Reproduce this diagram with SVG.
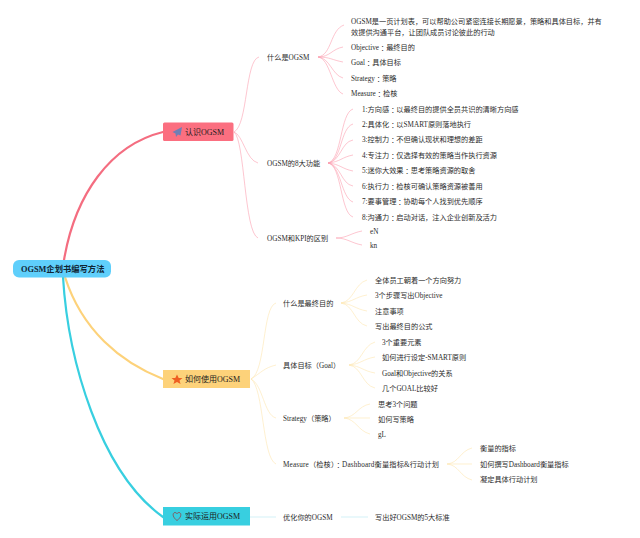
<svg xmlns="http://www.w3.org/2000/svg" width="640" height="538" viewBox="0 0 640 538">
<style>
text{font-family:"Liberation Serif","Noto Sans CJK SC",serif;font-size:7.2px;fill:#2b2b2b;dominant-baseline:central;transform:translate(0,.6px)}
.t{font-size:8px;fill:#1c1c1c}
.root{font-size:8.300px;font-weight:bold;fill:#0f2433}
.z{font-family:"Noto Sans CJK TC",sans-serif}
.m{fill:none;stroke-width:2.200;stroke-linecap:round}
.l{fill:none;stroke-width:.6}
.r{stroke:#fb9fb0}.y{stroke:#fde6b0}.c{stroke:#b5e8f2}
</style>
<rect width="640" height="538" fill="#fff"/>
<g id="connectors">
<path class="m" stroke="#f46d80" d="M64 260C75 195 110 145 163 132"/>
<path class="m" stroke="#fdd27a" d="M65 277C82 330 120 362 163 379"/>
<path class="m" stroke="#38cfe0" stroke-width="2.600" d="M63 277C68 360 100 472 163 517"/>
<g class="l r">
<path d="M234 132C248 125 245 60 259 57"/>
<path d="M234 132C243 135 246 160 258 163"/>
<path d="M234 132C245 140 244 232 258 238"/>
<path d="M318 57C332 55 330 30 344 25"/>
<path d="M318 57C330 57 332 49 343 47"/>
<path d="M318 57C330 57 332 60 343 62"/>
<path d="M318 57C330 58 332 75 343 78"/>
<path d="M318 57C330 58 332 90 343 94"/>
<path d="M328 163C342 160 340 113 353 109"/>
<path d="M328 163C342 161 340 128 353 124"/>
<path d="M328 163C341 161 341 142 353 140"/>
<path d="M328 163C340 162 342 157 353 155"/>
<path d="M328 163C340 164 342 169 353 171"/>
<path d="M328 163C341 165 341 184 353 186"/>
<path d="M328 163C341 165 341 198 353 202"/>
<path d="M328 163C342 165 340 213 353 217"/>
<path d="M336 238C347 238 351 233 362 231"/>
<path d="M336 238C347 238 351 243 362 245"/>
</g>
<g class="l y">
<path d="M251 379C266 372 262 307 276 303"/>
<path d="M251 379C262 372 264 368 276 365"/>
<path d="M251 379C263 385 264 415 276 418"/>
<path d="M251 379C264 388 262 458 276 464"/>
<path d="M341 303C354 301 354 284 367 280"/>
<path d="M341 303C353 302 355 297 367 295"/>
<path d="M341 303C353 304 355 309 367 311"/>
<path d="M341 303C354 305 354 323 367 326"/>
<path d="M349 365C362 363 362 346 375 342"/>
<path d="M349 365C361 364 363 359 375 357"/>
<path d="M349 365C361 366 363 371 375 373"/>
<path d="M349 365C362 367 362 385 375 388"/>
<path d="M344 418C356 417 358 406 370 404"/>
<path d="M344 418H370"/>
<path d="M344 418C356 419 358 431 370 434"/>
<path d="M447 464C459 463 460 451 472 448"/>
<path d="M447 464H472"/>
<path d="M447 464C459 465 460 477 472 480"/>
</g>
<g class="l c">
<path d="M250 517H276"/>
<path d="M341 517H368"/>
</g>
</g>
<g id="root"><rect x="13" y="260" width="98" height="17.500" rx="6" fill="#5fcffb"/><text class="root" x="21" y="269">OGSM企划书编写方法</text></g>
<g id="n1"><rect x="163" y="122.500" width="70.500" height="18.500" rx="1.500" fill="#fb6f80"/>
<path d="M182 127L172.500 132L175.500 133.500L176 137L178 134.500L180.500 135.500Z" fill="#6f7fb5"/><text class="t" x="185" y="132">认识OGSM</text></g>
<g id="n2"><rect x="163" y="370" width="87" height="18" fill="#fdd27a"/>
<path d="M177 374.500L178.700 378H182.500L179.500 380.400L180.600 384L177 381.900L173.400 384L174.500 380.400L171.500 378H175.300Z" fill="#ee5f22"/><text class="t" x="185" y="379">如何使用OGSM</text></g>
<g id="n3"><rect x="163" y="507" width="87" height="18.500" fill="#38cfe0"/>
<path d="M177 520.500C172 517 172.500 512.500 175 512.500C176 512.500 176.700 513 177 513.800C177.300 513 178 512.500 179 512.500C181.500 512.500 182 517 177 520.500Z" fill="none" stroke="#8a4a50" stroke-width=".8"/><text class="t" x="185" y="516">实际运用OGSM</text></g>
<g id="a1"><text x="267" y="57">什么是OGSM</text></g>
<g id="a2"><text x="267" y="163">OGSM的8大功能</text></g>
<g id="a3"><text x="267" y="238.500">OGSM和KPI的区别</text></g>
<g id="a1-1"><text x="351" y="21">OGSM是一页计划表，可以帮助公司紧密连接长期愿景，策略和具体目标，并有</text><text x="351" y="32">效提供沟通平台，让团队成员讨论彼此的行动</text></g>
<g id="a1-2"><text x="351" y="47">Objective<tspan class="z">：</tspan>最终目的</text></g>
<g id="a1-3"><text x="351" y="62.500">Goal<tspan class="z">：</tspan>具体目标</text></g>
<g id="a1-4"><text x="351" y="78">Strategy<tspan class="z">：</tspan>策略</text></g>
<g id="a1-5"><text x="351" y="93.500">Measure<tspan class="z">：</tspan>检核</text></g>
<g id="a2-1"><text x="362" y="109">1:方向感<tspan class="z">：</tspan>以最终目的提供全员共识的清晰方向感</text></g>
<g id="a2-2"><text x="362" y="124.300">2:具体化<tspan class="z">：</tspan>以SMART原则落地执行</text></g>
<g id="a2-3"><text x="362" y="139.700">3:控制力<tspan class="z">：</tspan>不但确认现状和理想的差距</text></g>
<g id="a2-4"><text x="362" y="155.300">4:专注力<tspan class="z">：</tspan>仅选择有效的策略当作执行资源</text></g>
<g id="a2-5"><text x="362" y="170.700">5:迷你大效果<tspan class="z">：</tspan>思考策略资源的取舍</text></g>
<g id="a2-6"><text x="362" y="186.300">6:执行力<tspan class="z">：</tspan>检核可确认策略资源被善用</text></g>
<g id="a2-7"><text x="362" y="201.700">7:要事管理<tspan class="z">：</tspan>协助每个人找到优先顺序</text></g>
<g id="a2-8"><text x="362" y="217">8:沟通力<tspan class="z">：</tspan>启动对话，注入企业创新及活力</text></g>
<g id="a3-1"><text x="370" y="231.500">eN</text></g>
<g id="a3-2"><text x="370" y="245">kn</text></g>
<g id="b1"><text x="283" y="303">什么是最终目的</text></g>
<g id="b2"><text x="283" y="365.500">具体目标（Goal）</text></g>
<g id="b3"><text x="283" y="418.500">Strategy（策略）</text></g>
<g id="b4"><text x="283" y="464" textLength="156">Measure（检核）<tspan class="z">：</tspan>Dashboard衡量指标&amp;行动计划</text></g>
<g id="b1-1"><text x="375" y="280">全体员工朝着一个方向努力</text></g>
<g id="b1-2"><text x="375" y="295.500">3个步骤写出Objective</text></g>
<g id="b1-3"><text x="375" y="311">注意事项</text></g>
<g id="b1-4"><text x="375" y="326.500">写出最终目的公式</text></g>
<g id="b2-1"><text x="382" y="342">3个重要元素</text></g>
<g id="b2-2"><text x="382" y="357.500">如何进行设定-SMART原则</text></g>
<g id="b2-3"><text x="382" y="373">Goal和Objective的关系</text></g>
<g id="b2-4"><text x="382" y="388.500">几个GOAL比较好</text></g>
<g id="b3-1"><text x="378" y="404">思考3个问题</text></g>
<g id="b3-2"><text x="378" y="419">如何写策略</text></g>
<g id="b3-3"><text x="378" y="434">gL</text></g>
<g id="b4-1"><text x="480" y="448.500">衡量的指标</text></g>
<g id="b4-2"><text x="480" y="464">如何撰写Dashboard衡量指标</text></g>
<g id="b4-3"><text x="480" y="479.500">凝定具体行动计划</text></g>
<g id="c1"><text x="283" y="517">优化你的OGSM</text></g>
<g id="c1-1"><text x="375" y="517">写出好OGSM的5大标准</text></g>
</svg>
